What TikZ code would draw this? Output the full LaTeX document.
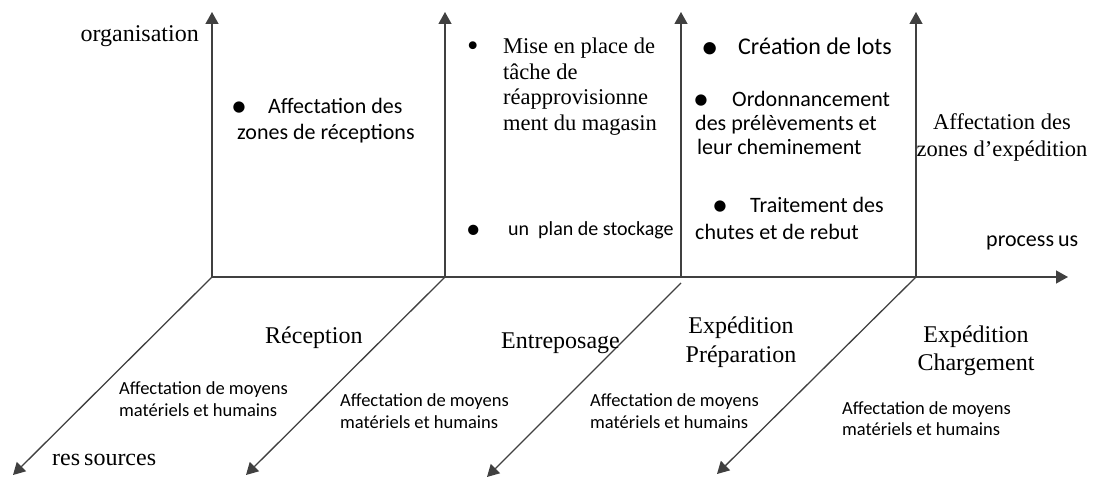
\documentclass[tikz,border=0pt]{standalone}
\usepackage{fontspec}
\setmainfont{Liberation Serif}
\newfontfamily\calfont{Carlito}
\usetikzlibrary{arrows.meta}
\definecolor{axiscol}{HTML}{404040}
\newcommand{\bul}[1]{\makebox[#1][l]{\raisebox{-0.13em}{\scalebox{1.45}{\textbullet}}}}
\begin{document}
\begin{tikzpicture}[x=1pt,y=-1pt,
  axisline/.style={draw=axiscol,line width=1.3pt,-{Triangle[length=12pt,width=13pt]}},
  tmsL/.style={inner sep=0pt,font=\fontsize{24}{28}\selectfont},
  tmsM/.style={inner sep=0pt,font=\fontsize{22.5}{26}\selectfont},
  calL/.style={inner sep=0pt,font=\calfont\fontsize{24}{28}\selectfont},
  calM/.style={inner sep=0pt,font=\calfont\fontsize{22}{26}\selectfont},
  calS/.style={inner sep=0pt,font=\calfont\fontsize{20}{24}\selectfont},
  calXS/.style={inner sep=0pt,font=\calfont\fontsize{18.5}{22}\selectfont},
  bw/.style={anchor=base west},
  bc/.style={anchor=base}]
\useasboundingbox (0,0) rectangle (1101,481);

% axes
\coordinate (o1) at (212,277);
\coordinate (o2) at (445,277);
\coordinate (o3) at (681,277);
\coordinate (o4) at (916,277);
\coordinate (s3) at (681,283);
\coordinate (t1) at (212,12);
\coordinate (t2) at (445,12);
\coordinate (t3) at (681,12);
\coordinate (t4) at (916,12);
\coordinate (d1) at (13,475);
\coordinate (d2) at (246,475);
\coordinate (d3) at (487,477);
\coordinate (d4) at (717,474);
\coordinate (e) at (1068,277);

\draw[axisline] (o1) -- (e);
\draw[axisline] (o1) -- (t1);
\draw[axisline] (o2) -- (t2);
\draw[axisline] (o3) -- (t3);
\draw[axisline] (o4) -- (t4);
\draw[axisline] (o1) -- (d1);
\draw[axisline] (o2) -- (d2);
\draw[axisline] (s3) -- (d3);
\draw[axisline] (o4) -- (d4);

% axis labels
\node[tmsL,anchor=base east] (org) at (199,42) {organisation};
\node[calM,bw] (proc) at (986,247) {process\kern4pt us};
\node[tmsL,bw] (res) at (52,465) {res\kern4pt sources};

% organisation column 1
\node[calM,bw] (a1) at (231,114) {\bul{37pt}Affectation des};
\node[calM,bw] (a2) at (237,140) {zones de réceptions};

% column 2
\node[tmsM,bw] (m1) at (467,54) {\bul{36pt}Mise en place de};
\node[tmsM,bw] (m2) at (503,79.5) {tâche de};
\node[tmsM,bw] (m3) at (503,105) {réapprovisionne};
\node[tmsM,bw] (m4) at (503,130.5) {ment du magasin};
\node[calS,bw] (p1) at (466,236) {\bul{42pt}un\ \ plan de stockage};

% column 3
\node[calL,bw] (c1) at (701,55) {\bul{37pt}Création de lots};
\node[calM,bw] (r1) at (693,107) {\bul{39pt}Ordonnancement};
\node[calM,bw] (r2) at (695,131) {des prélèvements et};
\node[calM,bw] (r3) at (697,155) {leur cheminement};
\node[calM,bw] (tr1) at (712,213) {\bul{38pt}Traitement des};
\node[calM,bw] (tr2) at (695,240) {chutes et de rebut};

% column 4
\node[tmsM,bc] (z1) at (1002,130) {Affectation des};
\node[tmsM,bc] (z2) at (1002,157) {zones d’expédition};

% process steps
\node[tmsL,bw] (rc) at (265,343) {Réception};
\node[tmsL,bw] (en) at (501,348) {Entreposage};
\node[tmsL,bc] (ep1) at (741,334) {Expédition};
\node[tmsL,bc] (ep2) at (741,362) {Préparation};
\node[tmsL,bc] (ec1) at (976,342) {Expédition};
\node[tmsL,bc] (ec2) at (976,370) {Chargement};

% resources
\node[calXS,bw] (f1a) at (119,394) {Affectation de moyens};
\node[calXS,bw] (f1b) at (119,416) {matériels et humains};
\node[calXS,bw] (f2a) at (340,406) {Affectation de moyens};
\node[calXS,bw] (f2b) at (340,428) {matériels et humains};
\node[calXS,bw] (f3a) at (590,406) {Affectation de moyens};
\node[calXS,bw] (f3b) at (590,428) {matériels et humains};
\node[calXS,bw] (f4a) at (842,414) {Affectation de moyens};
\node[calXS,bw] (f4b) at (842,435) {matériels et humains};
\end{tikzpicture}
\end{document}
